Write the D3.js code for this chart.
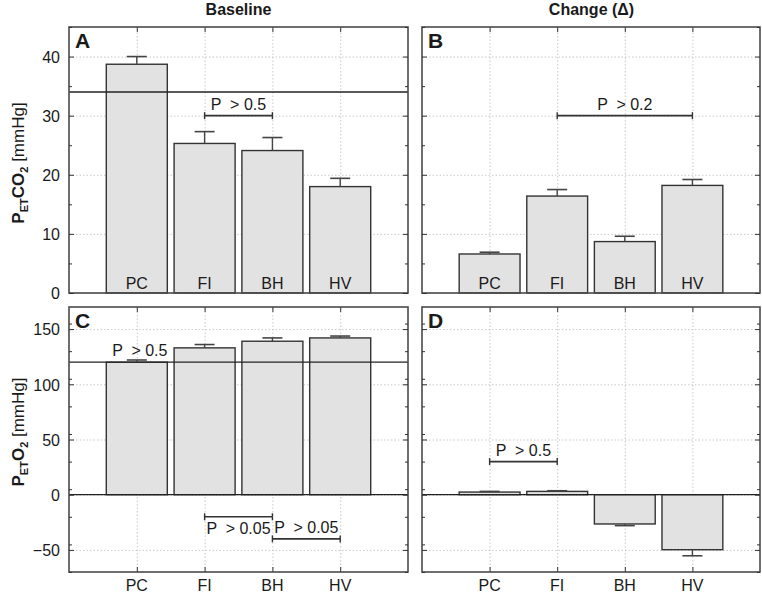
<!DOCTYPE html>
<html><head><meta charset="utf-8">
<script src="https://cdn.jsdelivr.net/npm/d3@7"></script>
<style>
body{margin:0;background:#fff;}
text{font-family:"Liberation Sans",Arial,Helvetica,sans-serif;fill:#1a1a1a;}
</style></head><body>
<script>
const categories = ["PC","FI","BH","HV"];
const baselineCO2 = [38.7, 25.3, 24.1, 18.0];
const baselineCO2Err = [1.3, 2.0, 2.2, 1.4];
const changeCO2 = [6.6, 16.4, 8.7, 18.2];
const changeCO2Err = [0.3, 1.1, 0.9, 1.0];
const baselineO2 = [120, 133, 139, 142];
const baselineO2Err = [2, 3, 3, 1.7];
const changeO2 = [2.4, 3.0, -26.5, -49.8];
const changeO2Err = [0.6, 0.6, 1.5, 5.5];
const refCO2 = 34;
const refO2 = 120;
const co2Ticks = [0,10,20,30,40];
const o2Ticks = [-50,0,50,100,150];
const columnTitles = ["Baseline","Change (\u0394)"];
// brackets: [from index, to index, y value, label, label side]
const bracketsA = [[1,2,30,"P  > 0.5","above"]];
const bracketsB = [[1,3,30,"P  > 0.2","above"]];
const bracketsC = [[0,0,120,"P  > 0.5","above"],[1,2,-20,"P  > 0.05","below"],[2,3,-40,"P  > 0.05","above"]];
const bracketsD = [[0,1,30,"P  > 0.5","above"]];

const W=762,H=593;
const svg=d3.select("body").append("svg").attr("width",W).attr("height",H);

const panels=[
 {L:"A",x0:69,x1:408,y0:27,y1:293,vals:baselineCO2,errs:baselineCO2Err,dom:[0,45],ticks:co2Ticks,minor:5,ref:refCO2,br:bracketsA,top:true,labels:true},
 {L:"B",x0:422,x1:760,y0:27,y1:293,vals:changeCO2,errs:changeCO2Err,dom:[0,45],ticks:co2Ticks,minor:5,ref:null,br:bracketsB,top:true,labels:false},
 {L:"C",x0:69,x1:408,y0:307,y1:572,vals:baselineO2,errs:baselineO2Err,dom:[-70,170],ticks:o2Ticks,minor:25,ref:refO2,br:bracketsC,top:false,labels:true},
 {L:"D",x0:422,x1:760,y0:307,y1:572,vals:changeO2,errs:changeO2Err,dom:[-70,170],ticks:o2Ticks,minor:25,ref:null,br:bracketsD,top:false,labels:false}
];

panels.forEach(p=>{
  const x=d3.scaleLinear().domain([0,5]).range([p.x0,p.x1]);
  const y=d3.scaleLinear().domain(p.dom).range([p.y1,p.y0]);
  const g=svg.append("g");
  const w=p.x1-p.x0, h=p.y1-p.y0;
  const pos=categories.map((c,i)=>i+1);
  const minorTicks=d3.range(p.dom[0],p.dom[1]+0.001,p.minor).filter(v=>!p.ticks.includes(v));
  const tk=(sel)=>sel.call(a=>{a.select(".domain").remove();a.selectAll("line").attr("stroke","#333").attr("stroke-width",1);});
  // grid
  g.append("g").attr("transform",`translate(${p.x0},0)`)
    .call(d3.axisLeft(y).tickValues(p.ticks).tickSize(-w).tickFormat(""))
    .call(a=>{a.select(".domain").remove();a.selectAll("line").attr("stroke","#c4c4c4").attr("stroke-width",0.9).attr("stroke-dasharray","1.5,2");});
  g.append("g").attr("transform",`translate(0,${p.y1})`)
    .call(d3.axisBottom(x).tickValues(pos).tickSize(-h).tickFormat(""))
    .call(a=>{a.select(".domain").remove();a.selectAll("line").attr("stroke","#c4c4c4").attr("stroke-width",0.9).attr("stroke-dasharray","1.5,2");});
  // x ticks (inward), under bars
  g.append("g").attr("transform",`translate(0,${p.y1})`).call(d3.axisBottom(x).tickValues(pos).tickSize(-5).tickFormat("")).call(tk);
  g.append("g").attr("transform",`translate(0,${p.y0})`).call(d3.axisTop(x).tickValues(pos).tickSize(-5).tickFormat("")).call(tk);
  // bars
  const bw=x(0.9)-x(0);
  g.selectAll("rect.bar").data(p.vals).enter().append("rect")
    .attr("x",(d,i)=>x(i+1)-bw/2).attr("width",bw)
    .attr("y",d=>y(Math.max(0,d))).attr("height",d=>Math.abs(y(d)-y(0)))
    .attr("fill","#e2e2e2").attr("stroke","#333").attr("stroke-width",1.4);
  // zero line / ref line
  if(p.dom[0]<0){
    g.append("line").attr("x1",p.x0).attr("x2",p.x1).attr("y1",y(0)).attr("y2",y(0)).attr("stroke","#222").attr("stroke-width",1.3);
  }
  if(p.ref!==null){
    g.append("line").attr("x1",p.x0).attr("x2",p.x1).attr("y1",y(p.ref)).attr("y2",y(p.ref)).attr("stroke","#222").attr("stroke-width",1.3);
  }
  // error bars
  p.vals.forEach((v,i)=>{
    const s=v>=0?1:-1, e=v+s*p.errs[i], cx=x(i+1);
    g.append("line").attr("x1",cx).attr("x2",cx).attr("y1",y(v)).attr("y2",y(e)).attr("stroke","#444").attr("stroke-width",1.4);
    g.append("line").attr("x1",cx-10).attr("x2",cx+10).attr("y1",y(e)).attr("y2",y(e)).attr("stroke","#444").attr("stroke-width",1.6);
  });
  // frame
  g.append("rect").attr("x",p.x0).attr("y",p.y0).attr("width",w).attr("height",h).attr("fill","none").attr("stroke","#4a4a4a").attr("stroke-width",1.6);
  // y ticks (inward)
  g.append("g").attr("transform",`translate(${p.x0},0)`).call(d3.axisLeft(y).tickValues(p.ticks).tickSize(-5).tickFormat("")).call(tk);
  g.append("g").attr("transform",`translate(${p.x0},0)`).call(d3.axisLeft(y).tickValues(minorTicks).tickSize(-3).tickFormat("")).call(tk);
  g.append("g").attr("transform",`translate(${p.x1},0)`).call(d3.axisRight(y).tickValues(p.ticks).tickSize(-5).tickFormat("")).call(tk);
  g.append("g").attr("transform",`translate(${p.x1},0)`).call(d3.axisRight(y).tickValues(minorTicks).tickSize(-3).tickFormat("")).call(tk);
  // tick labels
  if(p.labels){
    g.append("g").attr("transform",`translate(${p.x0-6},0)`)
      .call(d3.axisLeft(y).tickValues(p.ticks).tickSize(0).tickFormat(d=>d<0?"\u2212"+Math.abs(d):d))
      .call(a=>{a.select(".domain").remove();a.selectAll("text").attr("font-size",16).attr("fill","#1a1a1a").attr("dy","0.36em");});
  }
  // category labels
  g.selectAll("text.cat").data(categories).enter().append("text")
    .attr("x",(d,i)=>x(i+1)).attr("y",p.top?p.y1-4:p.y1+19)
    .attr("text-anchor","middle").attr("font-size",16).text(d=>d);
  // panel letter
  g.append("text").attr("x",p.x0+6).attr("y",p.y0+21).attr("font-size",21).attr("font-weight","bold").text(p.L);
  // brackets
  p.br.forEach(b=>{
    const xa=x(b[0]+1), xb=x(b[1]+1), yy=y(b[2]);
    if(b[0]!==b[1]){
      g.append("line").attr("x1",xa).attr("x2",xb).attr("y1",yy).attr("y2",yy).attr("stroke","#333").attr("stroke-width",1.6);
      [xa,xb].forEach(xx=>g.append("line").attr("x1",xx).attr("x2",xx).attr("y1",yy-3.5).attr("y2",yy+3.5).attr("stroke","#333").attr("stroke-width",1.4));
    }
    g.append("text").attr("x",(xa+xb)/2+(b[0]===b[1]?3:0)).attr("y",b[4]==="above"?yy-6:yy+17)
      .attr("text-anchor","middle").attr("font-size",16).style("white-space","pre").text(b[3]);
  });
});

// column titles
[[238.5,columnTitles[0]],[591.5,columnTitles[1]]].forEach(t=>{
  svg.append("text").attr("x",t[0]).attr("y",15).attr("text-anchor","middle").attr("font-size",16).attr("font-weight","bold").text(t[1]);
});

// y axis labels
function ylab(cy,gas){
  const t=svg.append("text").attr("transform",`translate(23.5,${cy}) rotate(-90)`).attr("text-anchor","middle").attr("font-size",17);
  t.append("tspan").attr("font-weight","bold").text("P");
  t.append("tspan").attr("font-weight","bold").attr("font-size",11).attr("dy",4).text("ET");
  t.append("tspan").attr("font-weight","bold").attr("dy",-4).text(gas);
  t.append("tspan").attr("font-weight","bold").attr("font-size",11).attr("dy",4).text("2");
  t.append("tspan").attr("dy",-4).text(" [mmHg]");
}
ylab(163,"CO");
ylab(432,"O");
</script></body></html>
